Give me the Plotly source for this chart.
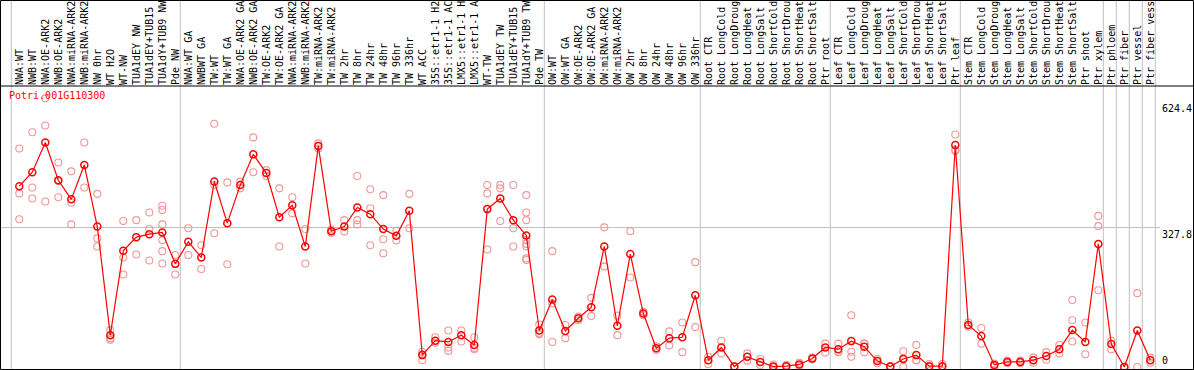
import plotly.graph_objects as go

gene_id = "Potri.001G110300"

categories = [
    "NWA:WT", "NWB:WT", "NWA:OE-ARK2", "NWB:OE-ARK2", "NWA:miRNA-ARK2", "NWB:miRNA-ARK2",
    "NW 0hr", "WT H2O", "WT-NW", "TUA1dEY NW", "TUA1dEY+TUB15", "TUA1dY+TUB9 NW", "Pde NW",
    "NWA:WT GA", "NWBWT GA", "TW:WT", "TW:WT GA", "NWA:OE-ARK2 GA", "NWB:OE-ARK2 GA",
    "TW:OE-ARK2", "TW:OE-ARK2 GA", "NWA:miRNA-ARK2", "NWB:miRNA-ARK2", "TW:miRNA-ARK2",
    "TW:miRNA-ARK2", "TW 2hr", "TW 8hr", "TW 24hr", "TW 48hr", "TW 96hr", "TW 336hr",
    "WT ACC", "35S::etr1-1 H2O", "35S::etr1-1 ACC", "LMX5::etr1-1 H2O", "LMX5::etr1-1 ACC",
    "WT-TW", "TUA1dEY TW", "TUA1dEY+TUB15", "TUA1dY+TUB9 TW", "Pde TW",
    "OW:WT", "OW:WT GA", "OW:OE-ARK2", "OW:OE-ARK2 GA", "OW:miRNA-ARK2", "OW:miRNA-ARK2",
    "OW 2hr", "OW 8hr", "OW 24hr", "OW 48hr", "OW 96hr", "OW 336hr",
    "Root CTR", "Root LongCold", "Root LongDrought", "Root LongHeat", "Root LongSalt",
    "Root ShortCold", "Root ShortDrought", "Root ShortHeat", "Root ShortSalt", "Ptr root",
    "Leaf CTR", "Leaf LongCold", "Leaf LongDrought", "Leaf LongHeat", "Leaf LongSalt",
    "Leaf ShortCold", "Leaf ShortDrought", "Leaf ShortHeat", "Leaf ShortSalt", "Ptr leaf",
    "Stem CTR", "Stem LongCold", "Stem LongDrought", "Stem LongHeat", "Stem LongSalt",
    "Stem ShortCold", "Stem ShortDrought", "Stem ShortHeat", "Stem ShortSalt", "Ptr shoot",
    "Ptr xylem", "Ptr phloem", "Ptr fiber", "Ptr vessel", "Ptr fiber vessel",
]

means = [
    426, 459, 529, 440, 395, 476, 331, 75, 274, 306, 313, 317, 243,
    295, 258, 437, 339, 429, 501, 457, 353, 381, 284, 521, 320, 331, 376, 360, 325, 309, 368,
    28, 62, 59, 75, 52, 372, 397, 346, 310, 86,
    159, 85, 115, 141, 284, 97, 266, 126, 44, 68, 70, 169,
    16, 46, 1, 24, 12, 1, 2, 6, 20, 46,
    42, 61, 48, 14, 1, 19, 28, 2, 2, 523,
    99, 73, 5, 12, 12, 16, 26, 42, 87, 59,
    290, 54, 0, 86, 16,
]

replicates = [
    [515, 409, 348], [553, 423, 397], [633, 569, 390], [482, 400, 438], [461, 387, 336],
    [529, 423], [408, 303, 284], [87, 68, 64], [344, 258, 218], [346, 265],
    [364, 325, 251], [380, 370, 336, 299, 273, 244], [264, 218],
    [327, 264], [287, 231], [573, 429, 315], [435, 242], [437, 421], [541, 459],
    [464, 450], [421, 284], [400, 362], [325, 244], [527, 515], [316, 324],
    [346, 319], [450, 346, 336], [419, 374, 287], [405, 301, 268], [321, 298], [408, 327],
    [36, 16, 30], [70, 57], [86, 46, 38], [86, 60], [70, 42, 45],
    [429, 409, 277], [429, 421, 344], [429, 327, 284],
    [405, 364, 346, 299, 290, 284, 256, 252], [100, 77, 80],
    [273, 150, 59], [99, 68], [119, 110], [163, 120], [329, 237], [121, 75],
    [320, 211], [130, 122], [49, 40], [84, 51], [105, 35], [247, 94],
    [24, 7], [62, 32], [0, 2], [32, 15], [19, 5], [6, 0, 0], [5, 0], [10, 3], [22, 18], [55, 34],
    [55, 36, 35], [122, 36, 24], [55, 35, 55], [19, 9], [0, 2], [37, 0, 20], [52, 16, 16],
    [7, 0], [7, 0], [548, 509, 512],
    [105, 95], [92, 55], [8, 2], [15, 9], [15, 9], [22, 10], [35, 17], [52, 32],
    [158, 110, 60], [105, 30],
    [356, 332, 181], [62, 42], [0, 0], [174, 0], [22, 10],
]

y_tick_values = [0, 327.8, 624.4]
y_tick_labels = ["0", "327.8", "624.4"]
group_starts = [0, 13, 41, 53, 63, 73, 84, 85, 86, 87, 88]

# ---- layout geometry ----
W, H = 1194, 370
ML, MR, MT, MB = 1, 34, 86, 1
PW, PH = W - ML - MR, H - MT - MB
x_range = [-1.408, 87.746]
y_range = [-4.7, 662.1]
sep_offset = 0.615
mono = "DejaVu Sans Mono"

xi = list(range(len(categories)))
rep_x, rep_y = [], []
for i, reps in enumerate(replicates):
    for v in reps:
        rep_x.append(i)
        rep_y.append(v)

fig = go.Figure()
fig.add_trace(go.Scatter(
    x=rep_x, y=rep_y, mode="markers",
    marker=dict(symbol="circle-open", size=7, color="#ee9898", line=dict(width=1.1)),
    hoverinfo="skip", cliponaxis=False, showlegend=False,
))
fig.add_trace(go.Scatter(
    x=xi, y=means, mode="lines+markers",
    line=dict(color="#ff0000", width=1.2),
    marker=dict(symbol="circle-open", size=7, color="#ff0000", line=dict(width=1.5)),
    cliponaxis=True, showlegend=False,
))

shapes = []
for g in group_starts:
    shapes.append(dict(type="line", xref="x", yref="paper",
                       x0=g - sep_offset, x1=g - sep_offset,
                       y0=-0.01, y1=(H - MB) / PH + 0.01,
                       line=dict(color="#c0c0c0", width=1), layer="below"))
# separator line between labels and plot
shapes.append(dict(type="line", xref="paper", yref="paper",
                   x0=-ML / PW, x1=(W - ML) / PW, y0=1, y1=1,
                   line=dict(color="black", width=1)))
# outer frame
shapes.append(dict(type="rect", xref="paper", yref="paper",
                   x0=(0.5 - ML) / PW, x1=(W - 0.5 - ML) / PW,
                   y0=(0.5 - MB) / PH, y1=(H - 0.5 - MB) / PH,
                   line=dict(color="black", width=1), fillcolor="rgba(0,0,0,0)"))

annotations = [dict(
    text=gene_id, xref="paper", yref="paper", x=(8 - ML) / PW, y=1 - 3 / PH,
    xanchor="left", yanchor="top", showarrow=False,
    font=dict(family=mono, size=10, color="#ff0000"), borderpad=0,
)]
for v, t in zip(y_tick_values, y_tick_labels):
    annotations.append(dict(
        text=t, xref="paper", yref="y", x=1, y=v, xanchor="left",
        yanchor="bottom" if v == 0 else "top", xshift=1, showarrow=False,
        font=dict(family=mono, size=10, color="black"), borderpad=0,
    ))

fig.update_layout(
    template="none",
    width=W, height=H,
    margin=dict(l=ML, r=MR, t=MT, b=MB, pad=0),
    paper_bgcolor="white", plot_bgcolor="white",
    showlegend=False,
    shapes=shapes, annotations=annotations,
    xaxis=dict(
        range=x_range, side="top", tickmode="array", tickvals=xi, ticktext=categories,
        tickangle=-90, tickfont=dict(family=mono, size=10, color="black"),
        ticks="", showgrid=False, zeroline=False, showline=False, automargin=False,
    ),
    yaxis=dict(
        range=y_range, tickmode="array", tickvals=[y_tick_values[1]], showticklabels=False,
        showgrid=True, gridcolor="#c0c0c0", gridwidth=1, zeroline=False, showline=False,
        ticks="", automargin=False,
    ),
)

fig.write_html(
    "out.html",
    config={"displayModeBar": False},
    post_script="document.body.style.margin='0';document.body.style.padding='0';",
)
